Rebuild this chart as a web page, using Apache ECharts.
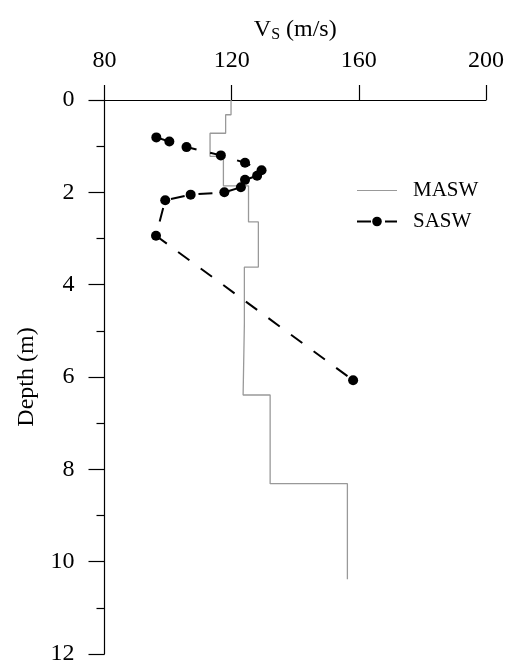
<!DOCTYPE html>
<html>
<head>
<meta charset="utf-8">
<script src="https://cdn.jsdelivr.net/npm/echarts@6/dist/echarts.min.js"></script>
<style>
  html, body { margin: 0; padding: 0; background: #fff; }
  #main { width: 507px; height: 666px; }
</style>
</head>
<body>
<div id="main"></div>
<script>
// MASW layered profile: velocity of each layer and its top/bottom depth (m)
var maswVs     = [119.8, 118.1, 113.2, 117.4, 125.3, 128.4, 124.0, 123.6, 132.1, 156.4];
var maswTop    = [0,     0.32,  0.72,  1.22,  1.86,  2.64,  3.62,  4.84,  6.39,  8.31];
var maswBottom = [0.32,  0.72,  1.22,  1.86,  2.64,  3.62,  4.84,  6.39,  8.31,  10.38];

// SASW points
var saswVs    = [96.3, 100.4, 105.8, 116.6, 124.2, 129.4, 128.0, 124.2, 122.9, 117.7, 107.1, 99.1, 96.2, 158.2];
var saswDepth = [0.81, 0.90,  1.02,  1.20,  1.36,  1.52,  1.64,  1.73,  1.89,  2.00,  2.05,  2.17, 2.94, 6.07];

var maswData = [];
for (var i = 0; i < maswVs.length; i++) {
  maswData.push([maswVs[i], maswTop[i]]);
  maswData.push([maswVs[i], maswBottom[i]]);
}
var saswData = saswVs.map(function (v, i) { return [v, saswDepth[i]]; });

var font = 'Liberation Serif';
var myChart = echarts.init(document.getElementById('main'));
myChart.setOption({
  animation: false,
  backgroundColor: '#fff',
  grid: { left: 104.5, top: 100, right: 21, bottom: 11, containLabel: false },
  legend: {
    orient: 'vertical',
    left: 351,
    top: 175,
    itemWidth: 40,
    itemHeight: 12,
    itemGap: 10,
    textStyle: { fontFamily: font, fontSize: 21, color: '#000', padding: [0, 0, 0, 11] },
    data: [
      { name: 'MASW', icon: 'path://M0,0 L40,0 L40,1 L0,1 Z' },
      { name: 'SASW' }
    ]
  },
  xAxis: {
    type: 'value',
    position: 'top',
    min: 80, max: 200, interval: 40,
    name: '{v|V}{s|S}{u| (m/s)}',
    nameLocation: 'middle',
    nameGap: 57,
    nameTextStyle: {
      rich: {
        v: { fontFamily: font, fontSize: 24, color: '#000' },
        s: { fontFamily: font, fontSize: 16, color: '#000', verticalAlign: 'bottom', padding: [10, 0, 0, 0] },
        u: { fontFamily: font, fontSize: 24, color: '#000' }
      }
    },
    axisLine: { show: true, onZero: false, lineStyle: { color: '#000', width: 1.2 } },
    axisTick: { show: true, inside: false, length: 15, lineStyle: { color: '#000', width: 1.2 } },
    axisLabel: { fontFamily: font, fontSize: 24, color: '#000', margin: 27 },
    splitLine: { show: false }
  },
  yAxis: {
    type: 'value',
    inverse: true,
    min: 0, max: 12, interval: 2,
    name: 'Depth (m)',
    nameLocation: 'middle',
    nameGap: 66,
    nameTextStyle: { fontFamily: font, fontSize: 24, color: '#000' },
    axisLine: { show: true, onZero: false, lineStyle: { color: '#000', width: 1.2 } },
    axisTick: { show: true, length: 16, lineStyle: { color: '#000', width: 1.2 } },
    minorTick: { show: true, splitNumber: 2, length: 8, lineStyle: { color: '#000', width: 1.2 } },
    axisLabel: { fontFamily: font, fontSize: 24, color: '#000', margin: 30 },
    splitLine: { show: false }
  },
  series: [
    {
      name: 'MASW',
      type: 'line',
      data: maswData,
      showSymbol: false,
      symbol: 'none',
      color: '#999',
      lineStyle: { color: '#999', width: 1.3 },
      z: 2
    },
    {
      name: 'SASW',
      type: 'line',
      data: saswData,
      symbol: 'circle',
      symbolSize: 10,
      color: '#000',
      itemStyle: { color: '#000' },
      lineStyle: { color: '#000', width: 2, type: [14, 14] },
      z: 3
    }
  ]
});
</script>
</body>
</html>
